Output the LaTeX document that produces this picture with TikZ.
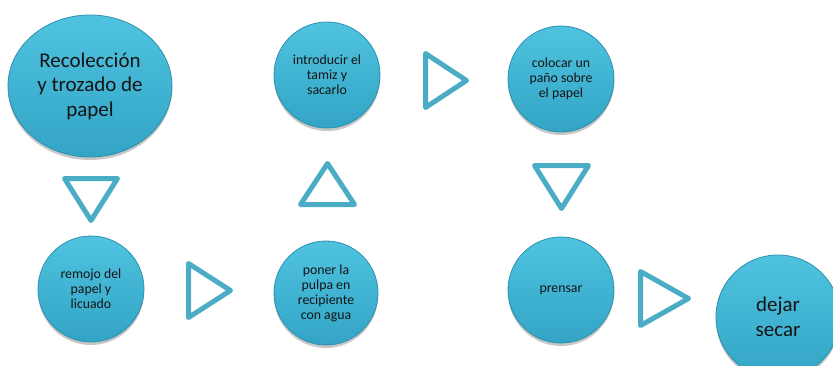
\documentclass[tikz,border=0pt]{standalone}
\usepackage{fontspec}
\setmainfont{Carlito}
\usetikzlibrary{shapes.geometric,shadows}
\definecolor{balltop}{HTML}{4FC3E0}
\definecolor{ballbot}{HTML}{33A4C5}
\definecolor{balledge}{HTML}{2B90AE}
\definecolor{tricol}{HTML}{4BACC6}
\definecolor{txtcol}{HTML}{141414}
\tikzset{
  ball/.style={circle, inner sep=0pt, top color=balltop, bottom color=ballbot,
    draw=balledge, line width=0.8pt, text=txtcol, align=center,
    drop shadow={shadow xshift=0pt, shadow yshift=-3pt, opacity=0.22, fill=black}},
  smalltxt/.style={font=\fontsize{13.8}{15}\selectfont},
  bigtxt/.style={font=\fontsize{21}{24.5}\selectfont},
  tri/.style={draw=tricol, line width=5pt, line join=round, fill=white}
}
\begin{document}
\begin{tikzpicture}[x=1pt, y=-1pt]
\fill[white] (0,0) rectangle (833,365);
\clip (0,0) rectangle (833,365);
% circles
\node[ball, ellipse, minimum width=164pt, minimum height=142pt, bigtxt] (c1) at (90,86) {Recolección\\y trozado de\\papel};
\node[ball, minimum size=106pt, smalltxt] (c2) at (91,289) {remojo del\\papel y\\licuado};
\node[ball, minimum size=104pt, smalltxt] (c3) at (326,293) {poner la\\pulpa en\\recipiente\\con agua};
\node[ball, minimum size=106pt, smalltxt] (c4) at (327,75) {introducir el\\tamiz y\\sacarlo};
\node[ball, minimum size=106pt, smalltxt] (c5) at (561,79) {colocar un\\paño sobre\\el papel};
\node[ball, minimum size=106pt, smalltxt] (c6) at (561,290) {prensar};
\node[ball, minimum size=124pt, bigtxt] (c7) at (778,317) {dejar\\secar};
% triangle arrows
\draw[tri] (64.5,178.5) -- (117.5,178.5) -- (91,220.5) -- cycle;
\draw[tri] (188.5,263.5) -- (230.5,290.5) -- (188.5,317.5) -- cycle;
\draw[tri] (300.5,204.5) -- (354.5,204.5) -- (327.5,163.5) -- cycle;
\draw[tri] (425.5,53.5) -- (466.5,80.5) -- (425.5,107.5) -- cycle;
\draw[tri] (534.5,165.5) -- (588.5,165.5) -- (561.5,208.5) -- cycle;
\draw[tri] (640.5,271.5) -- (688.5,298.5) -- (640.5,325.5) -- cycle;
\end{tikzpicture}
\end{document}
